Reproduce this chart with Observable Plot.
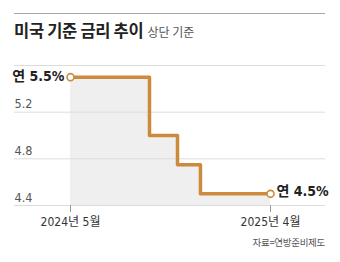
<!DOCTYPE html>
<html><head><meta charset="utf-8">
<script src="https://cdn.jsdelivr.net/npm/d3@7"></script>
<script src="https://cdn.jsdelivr.net/npm/@observablehq/plot@0.6"></script>
<style>
body{margin:0;background:#fff;font-family:"Liberation Sans Narrow","Noto Sans CJK KR",sans-serif;}
#wrap{position:relative;width:340px;height:262px;overflow:hidden;}
#rule{position:absolute;left:14px;top:13px;width:311px;border-top:1.5px solid #a8a8a8;}
#title{position:absolute;left:14px;top:19px;font-family:"Noto Sans CJK KR",sans-serif;font-size:16.5px;font-weight:700;color:#222;letter-spacing:-0.3px;white-space:nowrap;line-height:22px;}
#title span{font-weight:400;font-size:12px;color:#555;margin-left:4px;letter-spacing:0;}
#chart{position:absolute;left:0;top:50px;}
#cap{position:absolute;right:15px;top:235px;font-family:"Noto Sans CJK KR",sans-serif;font-size:9.5px;color:#555;letter-spacing:-0.3px;}
svg text{font-stretch:condensed;}
</style></head>
<body>
<div id="wrap">
<div id="rule"></div>
<div id="title">미국 기준 금리 추이<span>상단 기준</span></div>
<div id="chart"></div>
<div id="cap">자료=연방준비제도</div>
</div>
<script>
const dates = ["2024-05-01","2024-09-19","2024-11-08","2024-12-19","2025-04-23"];
const rates = [5.5, 5.0, 4.75, 4.5, 4.5];
const gridValues = [4.4, 4.8, 5.2, 5.6];
const yTickLabels = [4.4, 4.8, 5.2];
const xTickDates = ["2024-05-01","2025-04-23"];
const xTickLabels = ["2024년 5월","2025년 4월"];
const endLabels = ["연 5.5%","연 4.5%"];

const data = dates.map((d,i)=>({date:new Date(d+"T00:00:00Z"), rate:rates[i]}));
const first = data[0], last = data[data.length-1];
const xTicks = xTickDates.map(d=>new Date(d+"T00:00:00Z"));
const color = "#cc8a3d";
const font = "'Liberation Sans Narrow','DejaVu Sans Condensed','Liberation Sans','Noto Sans CJK KR',sans-serif";

const plot = Plot.plot({
  width:340, height:185,
  marginLeft:70, marginRight:70, marginTop:15, marginBottom:30,
  style:{fontFamily:font, background:"transparent", overflow:"visible"},
  x:{type:"utc", domain:[first.date, last.date]},
  y:{domain:[4.4,5.6], axis:null},
  marks:[
    Plot.areaY(data,{x:"date", y1:4.4, y2:"rate", curve:"step-after", fill:"#efefef"}),
    Plot.ruleY(gridValues,{stroke:"#dcdcdc", strokeWidth:1, insetLeft:-56, insetRight:-55}),
    Plot.text(yTickLabels,{y:d=>d, text:d=>d.toFixed(1), frameAnchor:"left", textAnchor:"start", dx:-56, dy:-8, fontSize:12.5, fill:"#555"}),
    Plot.axisX(xTicks,{tickSize:7, tickPadding:5, stroke:"#999", fill:"#333", fontSize:12, tickFormat:(d,i)=>xTickLabels[i], label:null}),
    Plot.line(data,{x:"date", y:"rate", curve:"step-after", stroke:color, strokeWidth:3.5}),
    Plot.dot([first,last],{x:"date", y:"rate", r:3.5, fill:"white", stroke:color, strokeWidth:1.6}),
    Plot.text([first],{x:"date", y:"rate", text:()=>endLabels[0], textAnchor:"end", dx:-6, dy:-1, fontSize:14, fontWeight:"bold", fill:"#222"}),
    Plot.text([last],{x:"date", y:"rate", text:()=>endLabels[1], textAnchor:"start", dx:6, dy:-2, fontSize:14, fontWeight:"bold", fill:"#222"})
  ]
});
document.getElementById("chart").appendChild(plot);
</script>
</body></html>
